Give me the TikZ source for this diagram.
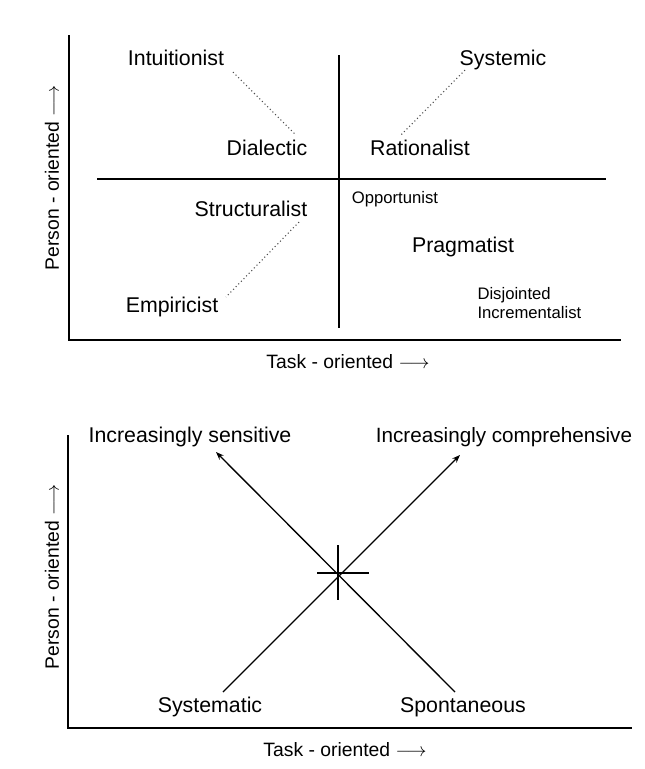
\documentclass[tikz,border=0pt]{standalone}
\usepackage{fontspec}
\setmainfont{Liberation Sans}
\usetikzlibrary{arrows.meta}

\tikzset{every picture/.style={line width=0.75pt}}
\tikzset{
  lbl/.style={inner sep=0.75pt, font=\fontsize{16}{18}\selectfont},
  smalllbl/.style={inner sep=0.75pt, align=left, font=\fontsize{12.5}{14}\selectfont},
  axislbl/.style={inner sep=0.75pt, font=\fontsize{14.5}{17}\selectfont},
  axisline/.style={line width=1.5pt},
  divider/.style={line width=1pt},
  guide/.style={dotted, line width=0.8pt, black!70},
  trend/.style={line width=1pt, -{Stealth[length=6pt,width=4.5pt]}},
}

\begin{document}
\begin{tikzpicture}[x=0.75pt,y=0.75pt,yscale=-1,xscale=1]
\useasboundingbox (0,0) rectangle (644,769);

%Upper chart: axes
\coordinate (ua-top) at (69,35);
\coordinate (ua-org) at (69,340);
\coordinate (ua-end) at (621,340);
\draw [axisline] (ua-top) -- (ua-org) -- (ua-end) ;
%Upper chart: quadrant lines
\coordinate (qv-top) at (339,55);
\coordinate (qv-bot) at (339,328);
\coordinate (qh-left) at (97,179);
\coordinate (qh-right) at (606,179);
\draw [divider] (qv-top) -- (qv-bot) ;
\draw [divider] (qh-left) -- (qh-right) ;

% Text Node
\node [lbl] (intu) at (176,58) {Intuitionist};
\node [lbl] (syst) at (503,60) {Systemic};
\node [lbl] (dial) at (267,148) {Dialectic};
\node [lbl] (rati) at (420,148) {Rationalist};
\node [lbl] (stru) at (251,209) {Structuralist};
\node [lbl] (empi) at (172,307) {Empiricist};
\node [lbl] (prag) at (463,247) {Pragmatist};
\node [smalllbl] (oppo) at (395,199) {Opportunist};
\node [smalllbl, anchor=west] (disj) at (476,303) {Disjointed\\Incrementalist};
\node [axislbl, rotate=90] (pers-u) at (52,178) {Person - oriented $\longrightarrow$};
\node [axislbl] (task-u) at (348,362) {Task - oriented $\longrightarrow$};

%Dotted guides
\coordinate (g1a) at (233,72);
\coordinate (g1b) at (296,135);
\coordinate (g2a) at (465,70);
\coordinate (g2b) at (401,135);
\coordinate (g3a) at (299,222);
\coordinate (g3b) at (226,297);
\draw [guide] (g1a) -- (g1b) ;
\draw [guide] (g2a) -- (g2b) ;
\draw [guide] (g3a) -- (g3b) ;

%Lower chart: axes
\coordinate (la-top) at (68,435);
\coordinate (la-org) at (68,728);
\coordinate (la-end) at (632,728);
\draw [axisline] (la-top) -- (la-org) -- (la-end) ;

% Text Node
\node [lbl] (sens) at (190,437) {Increasingly sensitive};
\node [lbl, font=\fontsize{15.5}{18}\selectfont] (comp) at (504,437) {Increasingly comprehensive};
\node [lbl] (sysm) at (210,707) {Systematic};
\node [lbl] (spon) at (463,707) {Spontaneous};
\node [axislbl, rotate=90] (pers-l) at (52,577) {Person - oriented $\longrightarrow$};
\node [axislbl] (task-l) at (345,750) {Task - oriented $\longrightarrow$};

%Diagonal trends
\coordinate (sens-tip) at (216,452);
\coordinate (spon-tail) at (455,692);
\coordinate (comp-tip) at (460,455);
\coordinate (sysm-tail) at (223,692);
\draw [trend] (spon-tail) -- (sens-tip) ;
\draw [trend] (sysm-tail) -- (comp-tip) ;
%Cross at the meeting point
\coordinate (hub) at (338,573);
\draw [line width=0.8pt] (hub) ++(-21,0) -- ++(52,0) ;
\draw [line width=0.8pt] (hub) ++(0,-28) -- ++(0,55) ;

\end{tikzpicture}
\end{document}
